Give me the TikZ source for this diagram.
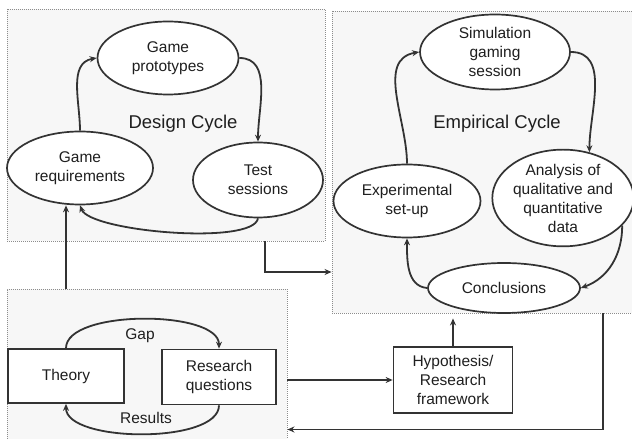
\documentclass[tikz,border=0pt]{standalone}
\usepackage{fontspec}
\setmainfont{Liberation Sans}
\usetikzlibrary{shapes.geometric,arrows.meta}

\begin{document}
\begin{tikzpicture}[x=1pt,y=1pt,
      zone/.style={draw=black!45,fill=black!3,line width=0.9pt,
        dash pattern=on 1pt off 1pt,inner sep=0pt},
      cyc/.style={ellipse,draw=black!80,line width=1.7pt,fill=white,
        inner sep=0pt,align=center,text=black!88,
        font=\fontsize{15.5}{19}\selectfont},
      blk/.style={rectangle,draw=black!80,line width=1.7pt,fill=white,
        inner sep=0pt,align=center,text=black!88,
        font=\fontsize{15.5}{19}\selectfont},
      title/.style={text=black!88,font=\fontsize{18.5}{22}\selectfont},
      lbl/.style={text=black!88,font=\fontsize{15.5}{19}\selectfont},
      con/.style={draw=black!80,line width=1.8pt,
        -{Stealth[length=7pt,width=6pt]}},
      ]
        \useasboundingbox (0,0) rectangle (632,439);

        % dotted frames
        \node [zone,minimum width=318,minimum height=232] (design) at (166,314) {};
        \node [zone,minimum width=308,minimum height=302] (empirical) at (486,277) {};
        \node [zone,minimum width=280,minimum height=161] (research) at (147,69.5) {};

        % design cycle
        \node [cyc,minimum width=141,minimum height=73] (proto) at (168,381)
          {Game\\prototypes};
        \node [cyc,minimum width=146,minimum height=73] (gamereq) at (80,271)
          {Game\\requirements};
        \node [cyc,minimum width=130,minimum height=75] (tests) at (258,259)
          {Test\\sessions};
        \node [title] (dtitle) at (183,315) {Design Cycle};

        % empirical cycle
        \node [cyc,minimum width=150,minimum height=75] (sim) at (495,387)
          {Simulation\\gaming\\session};
        \node [cyc,minimum width=147,minimum height=73] (expt) at (407,238)
          {Experimental\\set-up};
        \node [cyc,minimum width=137,minimum height=87] (anal) at (563,241)
          {Analysis of\\qualitative and\\quantitative\\data};
        \node [cyc,minimum width=152,minimum height=50] (concl) at (504,151)
          {Conclusions};
        \node [title] (etitle) at (497,315) {Empirical Cycle};

        % research
        \node [blk,minimum width=116,minimum height=54] (theory) at (66,63)
          {Theory};
        \node [blk,minimum width=114,minimum height=55] (rq) at (219,62)
          {Research\\questions};
        \node [blk,minimum width=119,minimum height=66] (hyp) at (453,59)
          {Hypothesis/\\Research\\framework};
        \node [lbl] (gap) at (140,103) {Gap};
        \node [lbl] (results) at (146,21) {Results};

        \draw [con] (gamereq.north) to[out=90,in=190] (proto.west);
        \draw [con] (proto.east) to[out=0,in=90] (tests.north);
        \draw [con] (tests.south) to[out=-100,in=-70,looseness=0.4] (gamereq.south);

        \draw [con] (expt.north) to[out=90,in=190] (sim.west);
        \draw [con] (sim.east) to[out=0,in=90] (anal.60);
        \draw [con] (anal.-25) to[out=-90,in=20] (concl.east);
        \draw [con] (concl.west) to[out=175,in=-90] (expt.south);

        \draw [con] (theory.north) to[out=90,in=90,looseness=0.65] (rq.north);
        \draw [con] (rq.south) to[out=-90,in=-90,looseness=0.65] (theory.south);

        \draw [con] (theory.north |- research.north) -- (theory.north |- gamereq.south);
        \draw [con] ([xshift=99pt]design.south) |- ([yshift=-110pt]empirical.west);
        \draw [con] (research.east |- hyp.west) -- (hyp.west);
        \draw [con,shorten >=5pt] (hyp.north) -- (hyp.north |- empirical.south);
        \draw [con] ([xshift=117pt]empirical.south) |- ([yshift=-60pt]research.east);
      \end{tikzpicture}
\end{document}
